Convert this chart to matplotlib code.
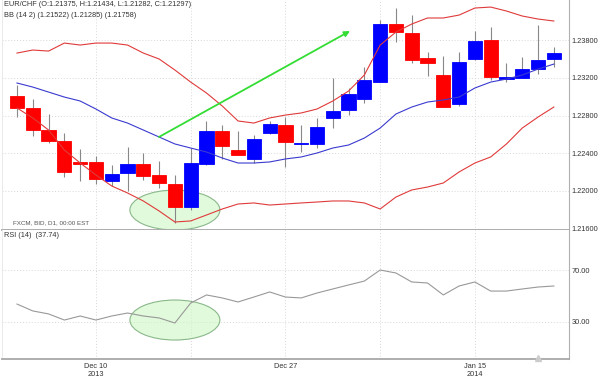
import matplotlib
matplotlib.use("Agg")
import matplotlib.pyplot as plt
from matplotlib.patches import Ellipse
import numpy as np

plt.rcParams["font.family"] = ["Liberation Sans", "DejaVu Sans"]

# EUR/CHF daily candles
opens = [1.23008, 1.22881, 1.22647, 1.22531, 1.22308, 1.22308, 1.22106, 1.22191, 1.22286, 1.22170,
         1.22074, 1.21830, 1.22286, 1.22637, 1.22435, 1.22340, 1.22615, 1.22700, 1.22499, 1.22499,
         1.22775, 1.22859, 1.22976, 1.23156, 1.23772, 1.23676, 1.23411, 1.23231, 1.22923, 1.23401,
         1.23602, 1.23188, 1.23199, 1.23294, 1.23401]
highs = [1.23125, 1.22976, 1.22817, 1.22615, 1.22446, 1.22371, 1.22276, 1.22467, 1.22403, 1.22318,
         1.22170, 1.22456, 1.22743, 1.22700, 1.22637, 1.22594, 1.22743, 1.22785, 1.22700, 1.22775,
         1.23199, 1.23093, 1.23316, 1.23814, 1.23942, 1.23867, 1.23475, 1.23432, 1.23475, 1.23698,
         1.23740, 1.23358, 1.23422, 1.23761, 1.23528]
lows = [1.22785, 1.22584, 1.22509, 1.22149, 1.22106, 1.22074, 1.22053, 1.22000, 1.22117, 1.22032,
        1.21660, 1.21798, 1.22276, 1.22340, 1.22382, 1.22297, 1.22605, 1.22255, 1.22414, 1.22456,
        1.22668, 1.22806, 1.22934, 1.23156, 1.23581, 1.23358, 1.23220, 1.22891, 1.22902, 1.23390,
        1.23178, 1.23156, 1.23199, 1.23241, 1.23316]
closes = [1.22881, 1.22647, 1.22531, 1.22202, 1.22286, 1.22127, 1.22180, 1.22286, 1.22159, 1.22085,
          1.21830, 1.22297, 1.22637, 1.22477, 1.22382, 1.22552, 1.22711, 1.22520, 1.22509, 1.22679,
          1.22849, 1.23029, 1.23178, 1.23772, 1.23687, 1.23390, 1.23358, 1.22891, 1.23369, 1.23592,
          1.23210, 1.23210, 1.23294, 1.23390, 1.23464]

# Bollinger bands (14, 2)
bb_upper = [1.23464, 1.23496, 1.23485, 1.23570, 1.23549, 1.23570, 1.23570, 1.23549, 1.23464, 1.23401,
            1.23284, 1.23156, 1.23040, 1.22902, 1.22743, 1.22721, 1.22775, 1.22806, 1.22828, 1.22870,
            1.22955, 1.23061, 1.23231, 1.23549, 1.23687, 1.23772, 1.23836, 1.23836, 1.23867, 1.23942,
            1.23952, 1.23910, 1.23857, 1.23825, 1.23804]
bb_middle = [1.23146, 1.23103, 1.23050, 1.22997, 1.22955, 1.22870, 1.22775, 1.22721, 1.22647, 1.22573,
             1.22499, 1.22456, 1.22414, 1.22350, 1.22297, 1.22297, 1.22308, 1.22340, 1.22361, 1.22403,
             1.22456, 1.22488, 1.22562, 1.22668, 1.22817, 1.22891, 1.22944, 1.22966, 1.22997, 1.23093,
             1.23156, 1.23188, 1.23231, 1.23294, 1.23347]
bb_lower = [1.22881, 1.22775, 1.22647, 1.22435, 1.22297, 1.22170, 1.22053, 1.21979, 1.21894, 1.21788,
            1.21671, 1.21682, 1.21745, 1.21809, 1.21862, 1.21873, 1.21851, 1.21862, 1.21873, 1.21883,
            1.21894, 1.21894, 1.21873, 1.21809, 1.21936, 1.22011, 1.22042, 1.22085, 1.22202, 1.22297,
            1.22361, 1.22499, 1.22668, 1.22785, 1.22891]

# RSI (14)
rsi = [43.8, 38.5, 36.2, 31.5, 34.6, 31.5, 34.6, 36.9, 34.6, 33.1,
       29.2, 44.6, 50.8, 48.5, 45.4, 49.2, 53.1, 49.2, 48.5, 52.3,
       55.4, 58.5, 61.5, 70.0, 67.7, 60.8, 60.0, 50.8, 57.7, 60.8,
       53.8, 53.8, 55.4, 56.9, 57.7]

price_ticks = [1.216, 1.220, 1.224, 1.228, 1.232, 1.236]
price_labels = ["1.21600", "1.22000", "1.22400", "1.22800", "1.23200", "1.23800"]
date_ticks = [5, 11, 17, 23, 29]
date_labels = ["Dec 10\n2013", "", "Dec 27", "", "Jan 15\n2014"]
rsi_ticks = [30, 70]
rsi_labels = ["30.00", "70.00"]

x = np.arange(len(opens))
o = np.array(opens)
c = np.array(closes)
up = c >= o
colors = np.where(up, "#0000ff", "#ff0000")

grid_kw = dict(color="#d8d8d8", linestyle=(0, (1, 2)), linewidth=0.7)
txt = "#333333"
fs = 5.3

fig = plt.figure(figsize=(6, 3.78), dpi=100)
ax1 = fig.add_axes([2 / 600, 1 - 230 / 378, 567 / 600, 230 / 378])
ax2 = fig.add_axes([2 / 600, 1 - 359 / 378, 567 / 600, 129 / 378])

# --- price panel ---
ax1.add_patch(Ellipse((10, 1.21798), 5.7, 0.00424, facecolor=(0.8, 0.97, 0.77, 0.6),
                      edgecolor="#8ab88a", linewidth=0.8, zorder=1.5))
ax1.vlines(x, lows, highs, color="#888888", linewidth=0.8, zorder=2)
ax1.bar(x, np.abs(c - o), bottom=np.minimum(o, c), width=0.9, color=colors,
        edgecolor=colors, linewidth=0.6, zorder=3)
ax1.plot(x, bb_upper, color="#e03a3a", linewidth=0.8, zorder=4)
ax1.plot(x, bb_middle, color="#3a3ad0", linewidth=0.8, zorder=4)
ax1.plot(x, bb_lower, color="#e03a3a", linewidth=0.8, zorder=4)

ax1.annotate("", xy=(21.09, 1.23698), xytext=(8.99, 1.22573),
             arrowprops=dict(arrowstyle="-|>", color="#33dd33", lw=1.3,
                             mutation_scale=8, shrinkA=0, shrinkB=0), zorder=6)

ax1.set_xlim(-0.95, 34.96)
ax1.set_ylim(1.21586, 1.24027)
ax1.set_yticks(price_ticks)
ax1.set_yticklabels(price_labels)
ax1.set_xticks(date_ticks)
ax1.set_xticklabels([])
ax1.yaxis.tick_right()
ax1.tick_params(axis="y", length=0, pad=2, labelsize=fs, labelcolor=txt)
ax1.tick_params(axis="x", length=0)
ax1.grid(True, **grid_kw)
ax1.set_axisbelow(True)

ax1.text(0.004, 0.995, "EUR/CHF (O:1.21375, H:1.21434, L:1.21282, C:1.21297)", transform=ax1.transAxes,
         fontsize=fs, color=txt, va="top", ha="left")
ax1.text(0.004, 0.947, "BB (14 2) (1.21522) (1.21285) (1.21758)", transform=ax1.transAxes,
         fontsize=fs, color=txt, va="top", ha="left")
ax1.text(0.019, 0.032, "FXCM, BID, D1, 00:00 EST", transform=ax1.transAxes,
         fontsize=4.5, color="#555555", va="center", ha="left")

# --- RSI panel ---
ax2.plot(x, rsi, color="#999999", linewidth=0.8, zorder=3)
ax2.add_patch(Ellipse((10, 31.5), 5.7, 30.8, facecolor=(0.8, 0.97, 0.77, 0.6),
                      edgecolor="#8ab88a", linewidth=0.8, zorder=2))
ax2.plot([33], [2.5], marker="^", color="#cccccc", markersize=5, clip_on=False, zorder=5)

ax2.set_xlim(-0.95, 34.96)
ax2.set_ylim(1.5, 100.8)
ax2.set_yticks(rsi_ticks)
ax2.set_yticklabels(rsi_labels)
ax2.set_xticks(date_ticks)
ax2.set_xticklabels(date_labels, linespacing=1.1)
ax2.yaxis.tick_right()
ax2.tick_params(axis="y", length=0, pad=2, labelsize=fs, labelcolor=txt)
ax2.tick_params(axis="x", length=0, pad=3, labelsize=fs, labelcolor=txt)
ax2.grid(True, **grid_kw)
ax2.set_axisbelow(True)
ax2.text(0.004, 0.985, "RSI (14)  (37.74)", transform=ax2.transAxes,
         fontsize=fs, color=txt, va="top", ha="left")

for ax in (ax1, ax2):
    ax.spines["top"].set_visible(False)
    ax.spines["left"].set_color("#e6e6e6")
    ax.spines["left"].set_linewidth(0.6)
    ax.spines["right"].set_color("#b0b0b0")
    ax.spines["right"].set_linewidth(0.8)
    ax.spines["bottom"].set_color("#a8a8a8")
    ax.spines["bottom"].set_linewidth(1.3)

plt.savefig("out.png", dpi=100)
